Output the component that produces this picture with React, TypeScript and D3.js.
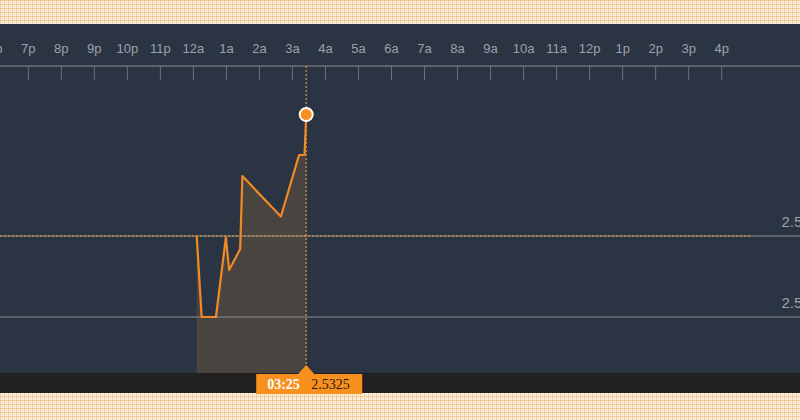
import * as d3 from 'd3'

// hourly tick labels, hours relative to midnight
const tickLabels = ['6p', '7p', '8p', '9p', '10p', '11p', '12a', '1a', '2a', '3a', '4a', '5a', '6a', '7a', '8a', '9a', '10a', '11a', '12p', '1p', '2p', '3p', '4p']
const tickHours = [-6, -5, -4, -3, -2, -1, 0, 1, 2, 3, 4, 5, 6, 7, 8, 9, 10, 11, 12, 13, 14, 15, 16]

// intraday quotes
const times = ['00:06', '00:15', '00:41', '00:59', '01:05', '01:25', '01:29', '02:39', '03:12', '03:22', '03:25']
const values = [2.525, 2.52, 2.52, 2.5249, 2.5229, 2.5242, 2.5287, 2.5262, 2.53, 2.53, 2.5325]

const gridValues = [2.52, 2.525]
const gridLabels = ['2.520', '2.525']
const prevClose = 2.525
const lastTime = '03:25'
const lastValue = '2.5325'

const W = 800
const H = 420
const panelTop = 24
const footerTop = 373
const footerBottom = 393
const axisY = 66

function toHours(t: string) {
  const [h, m] = t.split(':').map(Number)
  return h + m / 60
}

export default function App() {
  const x = d3.scaleLinear().domain([-5, 16]).range([28.3, 721.7])
  const y = d3.scaleLinear().domain([2.52, 2.525]).range([317, 236])

  const pts: [number, number][] = times.map((t, i) => [toHours(t), values[i]])

  const line = d3.line<[number, number]>()
    .x(d => x(d[0]))
    .y(d => y(d[1]))
  const area = d3.area<[number, number]>()
    .x(d => x(d[0]))
    .y0(footerTop)
    .y1(d => y(d[1]))

  const last = pts[pts.length - 1]
  const cx = x(last[0])
  const cy = y(last[1])

  return (
    <svg width={W} height={H} style={{position: 'absolute', left: 0, top: 0}}>
      <defs>
        <pattern id="plaid" width={4} height={4} patternUnits="userSpaceOnUse">
          <rect width={4} height={4} fill="#fdf1e2" />
          <rect x={0} y={0} width={1} height={4} fill="#f2c896" />
          <rect x={0} y={0} width={4} height={1} fill="#f2c896" />
          <rect x={2} y={2} width={1} height={1} fill="#e9d6c0" />
        </pattern>
      </defs>
      <rect width={W} height={H} fill="url(#plaid)" />
      <rect y={panelTop} width={W} height={footerTop - panelTop} fill="#2b3442" />

      {/* hour axis */}
      <line x1={0} x2={W} y1={axisY} y2={axisY} stroke="#6c727c" strokeWidth={1.5} />
      <g fontFamily="Liberation Sans, Arial, sans-serif" fontSize={13} fill="#9ba1aa" textAnchor="middle">
        {tickHours.map((h, i) => (
          <g key={h}>
            <line x1={x(h)} x2={x(h)} y1={axisY} y2={axisY + 14} stroke="#6c727c" strokeWidth={1} />
            <text x={x(h)} y={52.5}>{tickLabels[i]}</text>
          </g>
        ))}
      </g>

      {/* area under the line */}
      <path d={area(pts) ?? undefined} fill="#4a4440" />

      {/* grid */}
      {gridValues.map((v, i) => (
        <g key={v}>
          <line x1={0} x2={W} y1={y(v)} y2={y(v)} stroke="#747a82" strokeWidth={1.5} opacity={0.9} />
          <text x={781.5} y={y(v) - 9} fontFamily="Liberation Sans, Arial, sans-serif" fontSize={15} fill="#9ba1aa">
            {gridLabels[i]}
          </text>
        </g>
      ))}

      <line x1={0} x2={752} y1={y(prevClose)} y2={y(prevClose)} stroke="#c98a3a" strokeWidth={1.4} strokeDasharray="2,2" />
      <line x1={cx} x2={cx} y1={axisY} y2={footerTop} stroke="#c98a3a" strokeWidth={1.4} strokeDasharray="2,2" />
      <path d={line(pts) ?? undefined} fill="none" stroke="#f08a24" strokeWidth={2.2} strokeLinejoin="round" />
      <circle cx={cx} cy={cy} r={6.5} fill="#f7901e" stroke="#ffffff" strokeWidth={2} />

      {/* footer */}
      <rect y={footerTop} width={W} height={footerBottom - footerTop} fill="#212121" />
      <rect x={cx - 50} y={374} width={106} height={20} fill="#f7901e" />
      <path d={`M${cx - 8},374 L${cx},365 L${cx + 8},374 Z`} fill="#f7901e" />
      <text x={cx - 39} y={389} fontFamily="Liberation Serif, Times New Roman, serif" fontSize={14} fontWeight={700} fill="#ffffff">
        {lastTime}
      </text>
      <text x={cx + 5} y={389} fontFamily="Liberation Serif, Times New Roman, serif" fontSize={14} fill="#2a1a0a">
        {lastValue}
      </text>
    </svg>
  )
}
